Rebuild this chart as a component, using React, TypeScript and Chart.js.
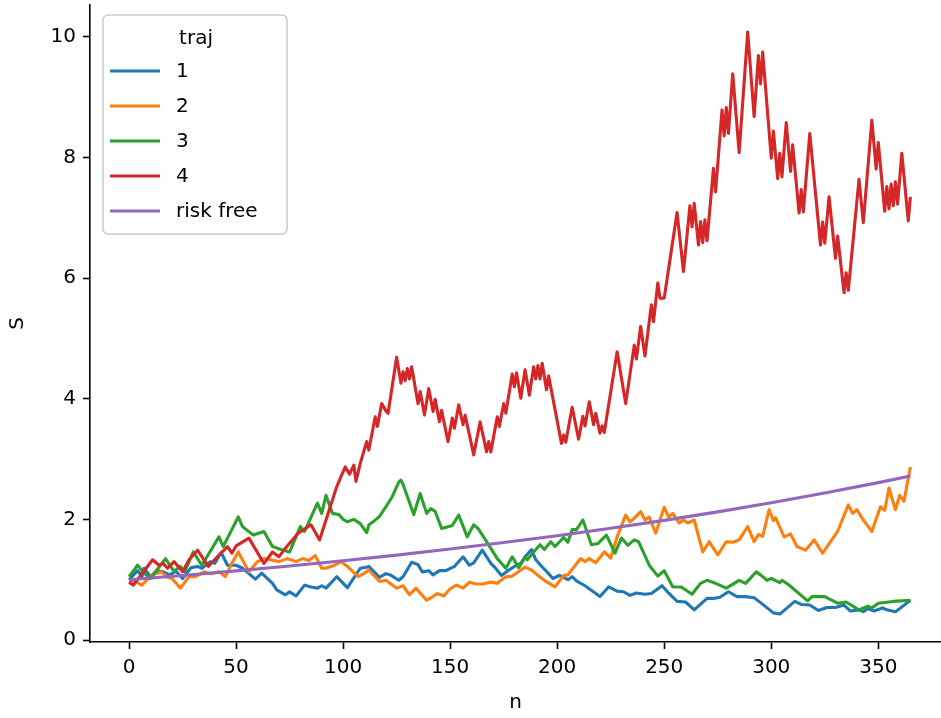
import React, { useEffect, useRef } from "react";
import { Chart, registerables } from "chart.js";

Chart.register(...registerables);

const legendTitle = "traj";
const seriesLabels = ["1", "2", "3", "4", "risk free"];
const seriesColors = ["#1f77b4", "#ff7f0e", "#2ca02c", "#d62728", "#9467bd"];
const xTickValues = [0, 50, 100, 150, 200, 250, 300, 350];
const yTickValues = [0, 2, 4, 6, 8, 10];

const traj1: [number, number][] = [
  [0, 1.0], [4, 1.15], [6, 1.05], [7, 1.19], [10, 1.05], [13, 1.15], [16, 1.13], [19, 1.08], [22, 1.14],
  [25, 1.02], [29, 1.2], [32, 1.22], [34, 1.19], [38, 1.3], [40, 1.27], [43, 1.45], [46, 1.24], [50, 1.24],
  [53, 1.19], [56, 1.1], [59, 1.01], [62, 1.11], [67, 0.94], [69, 0.83], [73, 0.75], [75, 0.8], [78, 0.73],
  [82, 0.91], [85, 0.88], [88, 0.86], [90, 0.9], [92, 0.86], [97, 1.05], [102, 0.87], [108, 1.19], [110, 1.2],
  [112, 1.22], [117, 1.04], [120, 1.1], [122, 1.08], [126, 0.99], [128, 1.05], [132, 1.29], [135, 1.25],
  [137, 1.13], [140, 1.15], [142, 1.08], [145, 1.15], [148, 1.15], [152, 1.22], [156, 1.38], [159, 1.24],
  [161, 1.28], [165, 1.49], [169, 1.27], [171, 1.2], [174, 1.07], [177, 1.15], [180, 1.22], [183, 1.27],
  [185, 1.38], [188, 1.5], [190, 1.33], [193, 1.21], [196, 1.1], [198, 1.02], [201, 1.07], [205, 1.0],
  [207, 1.05], [209, 0.98], [213, 0.9], [220, 0.72], [224, 0.88], [228, 0.81], [231, 0.8], [234, 0.74],
  [237, 0.78], [241, 0.76], [244, 0.77], [249, 0.9], [252, 0.78], [256, 0.64], [260, 0.63], [264, 0.5],
  [270, 0.69], [273, 0.69], [276, 0.71], [280, 0.8], [284, 0.72], [288, 0.72], [292, 0.7], [295, 0.62],
  [301, 0.45], [304, 0.43], [311, 0.64], [314, 0.59], [318, 0.58], [322, 0.49], [326, 0.54], [330, 0.54],
  [334, 0.58], [337, 0.48], [341, 0.5], [343, 0.47], [345, 0.52], [348, 0.48], [352, 0.53], [354, 0.5],
  [358, 0.47], [360, 0.52], [365, 0.66],
];

const traj2: [number, number][] = [
  [0, 1.0], [3, 0.97], [6, 0.91], [9, 1.02], [11, 1.08], [15, 1.13], [18, 1.04], [20, 1.02], [24, 0.86],
  [28, 1.05], [31, 1.05], [35, 1.13], [38, 1.1], [42, 1.13], [45, 1.05], [48, 1.27], [51, 1.46], [56, 1.13],
  [60, 1.3], [63, 1.35], [66, 1.33], [70, 1.3], [74, 1.35], [78, 1.3], [81, 1.35], [84, 1.32], [87, 1.4],
  [90, 1.19], [92, 1.19], [96, 1.24], [99, 1.3], [102, 1.22], [107, 1.05], [110, 1.11], [112, 1.16],
  [117, 0.97], [120, 0.99], [125, 0.86], [128, 0.9], [131, 0.75], [134, 0.86], [139, 0.66], [142, 0.72],
  [144, 0.77], [147, 0.73], [150, 0.85], [153, 0.91], [156, 0.86], [159, 0.96], [162, 0.93], [165, 0.93],
  [169, 0.96], [172, 0.94], [176, 1.05], [179, 1.06], [183, 1.16], [185, 1.21], [188, 1.16], [190, 1.1],
  [194, 0.99], [199, 0.88], [203, 1.07], [205, 1.08], [208, 1.22], [211, 1.35], [213, 1.3], [215, 1.35],
  [218, 1.28], [222, 1.46], [225, 1.36], [228, 1.71], [232, 2.07], [234, 1.96], [236, 2.02], [239, 2.13],
  [241, 1.99], [243, 2.04], [246, 1.77], [250, 2.2], [252, 2.04], [254, 2.1], [257, 1.94], [259, 1.99],
  [261, 1.94], [264, 1.99], [268, 1.46], [271, 1.63], [275, 1.41], [279, 1.63], [282, 1.62], [285, 1.66],
  [289, 1.88], [292, 1.63], [294, 1.75], [296, 1.72], [299, 2.16], [301, 1.98], [302, 2.03], [306, 1.71],
  [309, 1.76], [312, 1.55], [316, 1.49], [320, 1.66], [324, 1.44], [331, 1.8], [336, 2.24], [338, 2.1],
  [340, 2.16], [343, 1.99], [347, 1.8], [351, 2.21], [353, 2.15], [355, 2.52], [358, 2.16], [360, 2.4],
  [362, 2.3], [365, 2.87],
];

const traj3: [number, number][] = [
  [0, 1.05], [4, 1.24], [7, 1.11], [10, 1.02], [17, 1.35], [21, 1.14], [24, 1.22], [26, 1.13], [30, 1.46],
  [34, 1.24], [42, 1.71], [44, 1.55], [45, 1.62], [51, 2.04], [53, 1.88], [58, 1.74], [63, 1.8], [67, 1.55],
  [71, 1.5], [75, 1.46], [80, 1.88], [82, 1.8], [88, 2.27], [90, 2.1], [92, 2.4], [95, 2.1], [98, 2.08],
  [100, 2.0], [102, 1.96], [105, 2.0], [108, 1.93], [111, 1.78], [112, 1.91], [114, 1.96], [117, 2.05],
  [120, 2.21], [123, 2.38], [126, 2.62], [127, 2.65], [128, 2.58], [133, 2.08], [136, 2.43], [139, 2.1],
  [141, 2.18], [143, 2.13], [146, 1.85], [149, 1.88], [151, 1.9], [154, 2.07], [158, 1.71], [161, 1.91],
  [163, 1.85], [166, 1.69], [172, 1.35], [176, 1.19], [179, 1.38], [182, 1.2], [185, 1.37], [186, 1.33],
  [189, 1.46], [192, 1.58], [194, 1.5], [197, 1.63], [199, 1.55], [203, 1.7], [205, 1.62], [207, 1.83],
  [209, 1.83], [212, 1.99], [216, 1.58], [219, 1.6], [223, 1.74], [227, 1.44], [230, 1.69], [233, 1.57],
  [236, 1.66], [238, 1.63], [243, 1.24], [247, 1.06], [250, 1.15], [254, 0.88], [258, 0.88], [263, 0.76],
  [267, 0.94], [270, 0.99], [274, 0.94], [279, 0.86], [285, 0.99], [288, 0.94], [293, 1.13], [295, 1.08],
  [298, 0.99], [300, 1.02], [304, 0.95], [305, 0.99], [308, 0.92], [317, 0.65], [319, 0.72], [325, 0.72],
  [331, 0.61], [335, 0.63], [341, 0.5], [345, 0.56], [347, 0.53], [350, 0.61], [357, 0.64], [365, 0.66],
];

const traj4: [number, number][] = [
  [0, 0.96], [2, 0.91], [11, 1.33], [14, 1.24], [16, 1.27], [18, 1.19], [21, 1.3], [25, 1.13], [28, 1.33],
  [32, 1.49], [37, 1.22], [42, 1.41], [46, 1.55], [48, 1.44], [50, 1.56], [56, 1.69], [63, 1.27], [67, 1.46],
  [70, 1.38], [73, 1.52], [79, 1.77], [85, 1.91], [89, 1.66], [97, 2.54], [99, 2.71], [101, 2.87],
  [103, 2.75], [105, 2.9], [106, 2.63], [108, 2.93], [111, 3.29], [112, 3.15], [115, 3.7], [116, 3.54],
  [118, 3.92], [120, 3.8], [121, 3.76], [125, 4.69], [127, 4.26], [128, 4.45], [129, 4.3], [130, 4.5],
  [131, 4.33], [132, 4.53], [135, 3.92], [136, 4.12], [138, 3.73], [140, 4.17], [142, 3.79], [143, 3.99],
  [145, 3.62], [146, 3.81], [149, 3.29], [151, 3.68], [152, 3.51], [154, 3.9], [156, 3.57], [157, 3.73],
  [161, 3.07], [164, 3.62], [167, 3.12], [168, 3.29], [169, 3.12], [172, 3.7], [173, 3.54], [175, 3.92],
  [176, 3.76], [179, 4.41], [180, 4.2], [181, 4.43], [183, 4.01], [185, 4.48], [187, 4.06], [189, 4.53],
  [190, 4.33], [191, 4.55], [192, 4.33], [193, 4.59], [195, 4.15], [196, 4.38], [202, 3.26], [203, 3.4],
  [204, 3.28], [207, 3.86], [210, 3.33], [212, 3.71], [213, 3.55], [215, 3.95], [217, 3.57], [218, 3.76],
  [220, 3.43], [221, 3.55], [222, 3.44], [228, 4.78], [232, 3.92], [236, 4.89], [237, 4.66], [239, 5.2],
  [241, 4.71], [244, 5.56], [245, 5.28], [247, 5.92], [248, 5.67], [250, 5.67], [256, 7.09], [259, 6.11],
  [262, 7.2], [263, 6.85], [264, 7.24], [266, 6.55], [267, 6.94], [268, 6.59], [269, 6.97], [270, 6.62],
  [273, 7.82], [274, 7.43], [277, 8.79], [278, 8.36], [279, 8.83], [280, 8.4], [282, 9.39], [285, 8.08],
  [289, 10.08], [292, 8.68], [294, 9.69], [295, 9.22], [296, 9.75], [300, 7.99], [301, 8.44], [303, 7.65],
  [304, 8.07], [305, 7.68], [307, 8.58], [309, 7.77], [310, 8.21], [313, 7.08], [314, 7.47], [315, 7.1],
  [318, 8.4], [323, 6.55], [324, 6.93], [325, 6.58], [327, 7.35], [330, 6.33], [331, 6.7], [334, 5.76],
  [335, 6.09], [336, 5.8], [341, 7.64], [343, 6.92], [347, 8.62], [349, 7.81], [350, 8.25], [353, 7.11],
  [354, 7.52], [355, 7.15], [356, 7.56], [357, 7.2], [358, 7.6], [359, 7.23], [361, 8.07], [364, 6.95],
  [365, 7.35],
];

const riskFree: [number, number][] = [
  [0, 1.0], [25, 1.071], [50, 1.147], [75, 1.228], [100, 1.315], [125, 1.408], [150, 1.509], [175, 1.616],
  [200, 1.73], [225, 1.853], [250, 1.984], [275, 2.125], [300, 2.276], [325, 2.437], [350, 2.61], [365, 2.718],
];

const allSeries = [traj1, traj2, traj3, traj4, riskFree];
const drawOrder = [4, 3, 2, 1, 0];

const FONT = "'DejaVu Sans', Verdana, sans-serif";

const legendPlugin = {
  id: "mplLegend",
  afterDraw(chart: any) {
    const ctx = chart.ctx as CanvasRenderingContext2D;
    ctx.save();
    const x0 = 103, y0 = 15, w = 184, h = 219;
    ctx.beginPath();
    (ctx as any).roundRect(x0, y0, w, h, 5);
    ctx.fillStyle = "rgba(255,255,255,0.8)";
    ctx.fill();
    ctx.strokeStyle = "#cccccc";
    ctx.lineWidth = 1.6;
    ctx.stroke();
    ctx.font = `20px ${FONT}`;
    ctx.fillStyle = "#000";
    ctx.textBaseline = "middle";
    ctx.textAlign = "center";
    ctx.fillText(legendTitle, 196, 39);
    ctx.textAlign = "left";
    chart.data.datasets.forEach((ds: any, i: number) => {
      const y = 72 + 35 * i;
      ctx.beginPath();
      ctx.moveTo(110, y - 1);
      ctx.lineTo(160, y - 1);
      ctx.strokeStyle = ds.borderColor;
      ctx.lineWidth = 3;
      ctx.lineCap = "butt";
      ctx.stroke();
      ctx.fillStyle = "#000";
      ctx.fillText(ds.label, 176, y);
    });
    ctx.restore();
  },
};

export default function App() {
  const ref = useRef<HTMLCanvasElement | null>(null);
  useEffect(() => {
    if (!ref.current) return;
    Chart.defaults.font.family = FONT;
    const chart = new Chart(ref.current, {
      type: "line",
      data: {
        datasets: allSeries.map((s, i) => ({
          label: seriesLabels[i],
          data: s.map(([x, y]) => ({ x, y })),
          borderColor: seriesColors[i],
          backgroundColor: seriesColors[i],
          borderWidth: 3.1,
          pointRadius: 0,
          tension: 0,
          fill: false,
          order: drawOrder[i],
          borderJoinStyle: "round" as const,
          borderCapStyle: "butt" as const,
        })),
      },
      options: {
        responsive: false,
        animation: false,
        layout: { padding: { top: 5, right: 0, left: 0, bottom: 0 } },
        plugins: { legend: { display: false }, tooltip: { enabled: false } },
        scales: {
          x: {
            type: "linear",
            min: -18.25,
            max: 379.3,
            afterBuildTicks: (scale: any) => {
              scale.ticks = xTickValues.map((v) => ({ value: v }));
            },
            afterFit: (scale: any) => {
              scale.height = 76;
              scale.paddingLeft = 0;
              scale.paddingRight = 0;
            },
            grid: { drawOnChartArea: false, drawTicks: true, tickLength: 7, tickWidth: 1.6, tickColor: "#000" },
            border: { display: true, color: "#000", width: 1.6 },
            ticks: { color: "#000", font: { size: 20 }, padding: 7, maxRotation: 0, autoSkip: false },
            title: { display: true, text: "n", color: "#000", font: { size: 20 }, padding: { top: 0, bottom: 3 } },
          },
          y: {
            type: "linear",
            min: -0.033,
            max: 10.53,
            afterBuildTicks: (scale: any) => {
              scale.ticks = yTickValues.map((v) => ({ value: v }));
            },
            afterFit: (scale: any) => {
              scale.width = 90;
              scale.paddingTop = 0;
              scale.paddingBottom = 0;
            },
            grid: { drawOnChartArea: false, drawTicks: true, tickLength: 7, tickWidth: 1.6, tickColor: "#000" },
            border: { display: true, color: "#000", width: 1.6 },
            ticks: { color: "#000", font: { size: 20 }, padding: 7, autoSkip: false },
            title: { display: true, text: "S", color: "#000", font: { size: 20 }, padding: { top: 6, bottom: 0 } },
          },
        },
      },
      plugins: [legendPlugin],
    });
    return () => chart.destroy();
  }, []);
  return (
    <div style={{ position: "fixed", left: 0, top: 0, width: 941, height: 718, background: "#fff" }}>
      <canvas ref={ref} width={941} height={718} style={{ display: "block" }} />
    </div>
  );
}
